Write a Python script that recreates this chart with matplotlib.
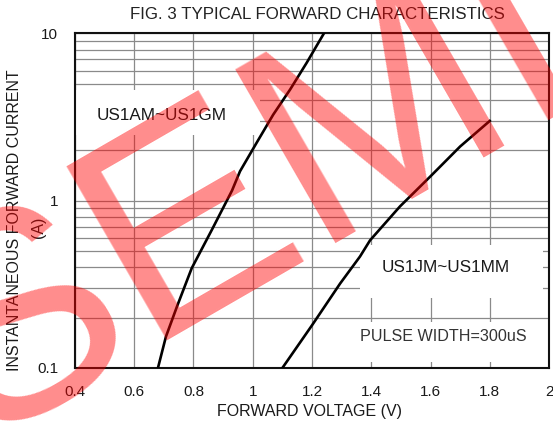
import matplotlib
matplotlib.use('Agg')
import matplotlib.pyplot as plt
from matplotlib.patches import Rectangle
from matplotlib.ticker import FixedLocator, LogLocator, NullFormatter

plt.rcParams['font.family'] = ['Liberation Sans', 'DejaVu Sans']

# Curve data (forward voltage V, current A)
v_ag = [0.68, 0.707, 0.745, 0.794, 0.862, 0.93, 0.957, 1.013, 1.069, 1.126, 1.182, 1.24]
i_ag = [0.1, 0.154, 0.235, 0.395, 0.67, 1.15, 1.5, 2.22, 3.27, 4.62, 6.68, 10.0]
v_jm = [1.10, 1.20, 1.295, 1.362, 1.396, 1.497, 1.60, 1.70, 1.80]
i_jm = [0.1, 0.18, 0.32, 0.464, 0.58, 0.925, 1.40, 2.11, 3.0]

x_ticks = [0.4, 0.6, 0.8, 1.0, 1.2, 1.4, 1.6, 1.8, 2.0]
x_labels = ['0.4', '0.6', '0.8', '1', '1.2', '1.4', '1.6', '1.8', '2']
y_ticks = [0.1, 1, 10]
y_labels = ['0.1', '1', '10']

txt = '#1a1a1a'

fig = plt.figure(figsize=(5.53, 4.26), dpi=100)
ax = fig.add_axes([0.1356, 0.1362, 0.8572, 0.7852])

ax.set_yscale('log')
ax.set_xlim(0.4, 2.0)
ax.set_ylim(0.1, 10)

ax.xaxis.set_major_locator(FixedLocator(x_ticks))
ax.set_xticklabels(x_labels)
ax.yaxis.set_major_locator(FixedLocator(y_ticks))
ax.set_yticklabels(y_labels)
ax.yaxis.set_minor_locator(LogLocator(base=10, subs=range(2, 10)))
ax.yaxis.set_minor_formatter(NullFormatter())
ax.tick_params(which='both', length=0, labelsize=11, colors=txt)
ax.tick_params(axis='x', pad=12)
ax.tick_params(axis='y', pad=12)

ax.set_axisbelow(True)
ax.grid(which='both', color='#8a8a8a', lw=0.9)
for s in ax.spines.values():
    s.set_color('#111111')
    s.set_linewidth(1.5)

# white label boxes that hide the grid
for box in [(0.0, 0.697, 0.39, 0.134), (0.601, 0.209, 0.386, 0.159), (0.601, 0.018, 0.395, 0.12)]:
    ax.add_patch(Rectangle(box[:2], box[2], box[3], transform=ax.transAxes,
                           facecolor='white', edgecolor='none', zorder=1))

ax.plot(v_ag, i_ag, color='black', lw=1.9, zorder=3, solid_joinstyle='round')
ax.plot(v_jm, i_jm, color='black', lw=1.9, zorder=3, solid_joinstyle='round')

ax.text(0.1835, 0.756, 'US1AM~US1GM', transform=ax.transAxes, ha='center', va='center',
        fontsize=12.3, color=txt, zorder=4)
ax.text(0.782, 0.299, 'US1JM~US1MM', transform=ax.transAxes, ha='center', va='center',
        fontsize=12.3, color=txt, zorder=4)
ax.text(0.778, 0.0927, 'PULSE WIDTH=300uS', transform=ax.transAxes, ha='center', va='center',
        fontsize=11.6, color='#333333', zorder=4)

fig.text(0.574, 0.965, 'FIG. 3 TYPICAL FORWARD CHARACTERISTICS', ha='center', va='center',
         fontsize=12.2, color='#222222')
fig.text(0.56, 0.033, 'FORWARD VOLTAGE (V)', ha='center', va='center', fontsize=11.5, color=txt)
fig.text(0.027, 0.482, 'INSTANTANEOUS FORWARD CURRENT', ha='center', va='center',
         rotation=90, fontsize=11.5, color=txt)
fig.text(0.069, 0.467, '(A)', ha='center', va='center', rotation=90, fontsize=11.5, color=txt)

# watermark
fig.text(-23 / 553, 1 - 442 / 426, 'SEMI', ha='left', va='baseline', rotation=30,
         rotation_mode='anchor', fontsize=210, color='red', alpha=0.45, zorder=10)

fig.savefig('out.png', dpi=100)
